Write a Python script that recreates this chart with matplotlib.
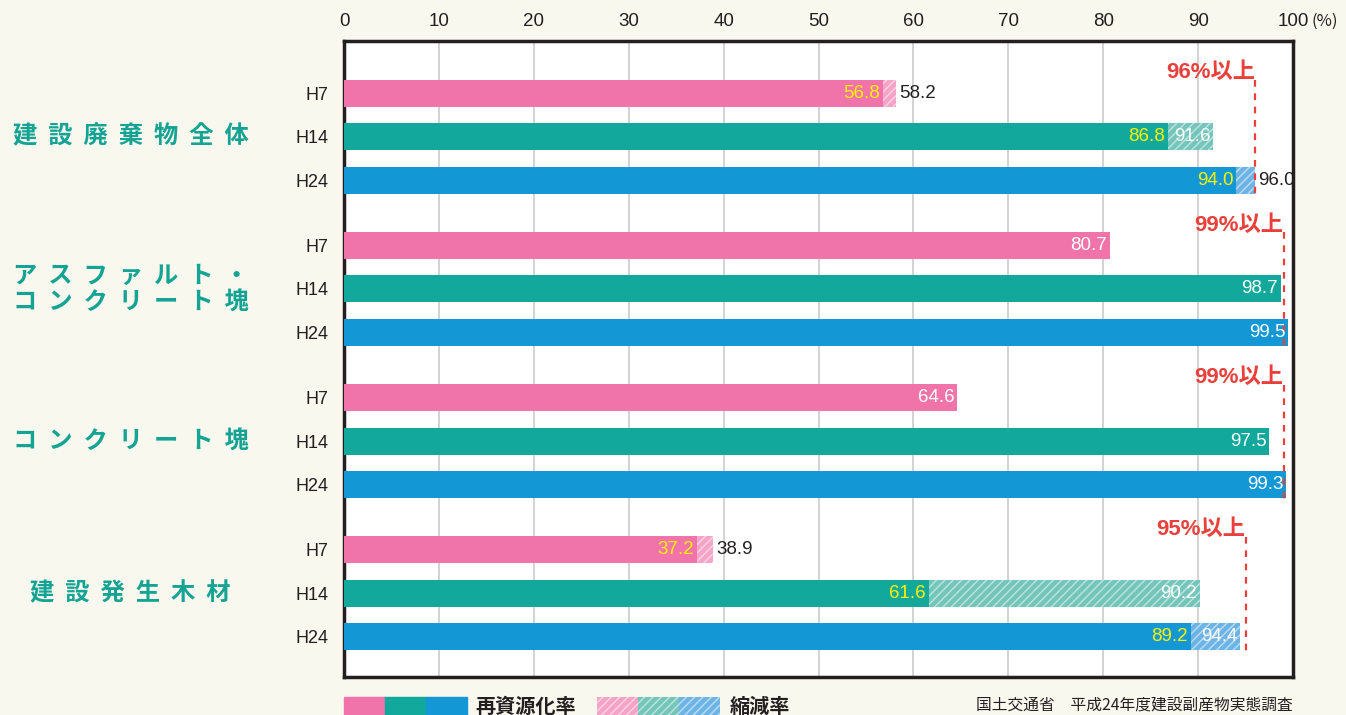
import matplotlib.pyplot as plt
from matplotlib.patches import Rectangle

plt.rcParams['font.family'] = ['Liberation Sans', 'Noto Sans CJK JP', 'DejaVu Sans']
plt.rcParams['hatch.linewidth'] = 1.0

# data
groups = ['建設廃棄物全体', 'アスファルト・\nコンクリート塊', 'コンクリート塊', '建設発生木材']
years = ['H7', 'H14', 'H24']
recycle = [[56.8, 86.8, 94.0],
           [80.7, 98.7, 99.5],
           [64.6, 97.5, 99.3],
           [37.2, 61.6, 89.2]]
reduction = [[58.2, 91.6, 96.0],
             [None, None, None],
             [None, None, None],
             [38.9, 90.2, 94.4]]
targets = [96, 99, 99, 95]
target_labels = ['96%以上', '99%以上', '99%以上', '95%以上']

colors = ['#F073AA', '#12A89B', '#1398D5']
light = ['#F6A3C8', '#74C5BA', '#6DB4E6']
teal = '#15A394'
red = '#E9403B'
dark = '#231F20'
cjk = ['Noto Sans CJK JP', 'DejaVu Sans']


def spaced(s):
    # wide letter spacing like the original
    return '\n'.join('  '.join(line) for line in s.split('\n'))


fig = plt.figure(figsize=(13.46, 7.15), dpi=100)
fig.patch.set_facecolor('#F9F8EF')
ax = fig.add_axes([344 / 1346, 1 - 677 / 715, (1293 - 344) / 1346, (677 - 41) / 715])
ax.set_facecolor('white')

step = 3.5
h = 0.62
ypos = []
ylab = []
for g in range(len(groups)):
    for r in range(3):
        y = g * step + r
        ypos.append(y)
        ylab.append(years[r])
        rec = recycle[g][r]
        red_v = reduction[g][r]
        ax.barh(y, rec, height=h, color=colors[r], zorder=3)
        if red_v is not None:
            ax.barh(y, red_v - rec, left=rec, height=h, color=light[r],
                    edgecolor=(1, 1, 1, 0.55), linewidth=0, hatch='////', zorder=3)
            ax.text(rec - 0.3, y, f'{rec:.1f}', color='#FFF100', ha='right', va='center',
                    fontsize=13.5, zorder=5)
            if red_v - rec > 3:
                ax.text(red_v - 0.3, y, f'{red_v:.1f}', color='white', ha='right', va='center',
                        fontsize=13.5, zorder=5)
            else:
                ax.text(red_v + 0.3, y, f'{red_v:.1f}', color=dark, ha='left', va='center',
                        fontsize=13.5, zorder=5)
        else:
            ax.text(rec - 0.3, y, f'{rec:.1f}', color='white', ha='right', va='center',
                    fontsize=13.5, zorder=5)

    # target line and label
    y0 = g * step
    ax.plot([targets[g], targets[g]], [y0 - 0.3, y0 + 2.45], color=red, lw=1.6,
            linestyle=(0, (3, 3)), zorder=4)
    ax.text(targets[g], y0 - 0.47, target_labels[g], color=red, ha='right', va='center',
            fontsize=16, fontweight='bold', zorder=5)

    # group label
    ax.text(-22.5, y0 + 1, spaced(groups[g]), color=teal, ha='center', va='center',
            fontsize=17.5, fontweight='bold', linespacing=1.15, family=cjk,
            clip_on=False)

ax.set_xlim(0, 100)
ax.set_ylim(len(groups) * step - 1.5 + 0.92, -1.2)
ax.set_xticks(range(0, 101, 10))
ax.set_xticklabels([str(v) for v in range(0, 101, 10)], fontsize=13.5, color=dark)
ax.xaxis.tick_top()
ax.tick_params(axis='x', length=0, pad=8)
ax.set_yticks(ypos)
ax.set_yticklabels(ylab, fontsize=13, color=dark)
ax.tick_params(axis='y', length=0, pad=11)
ax.grid(axis='x', color='#CCCCCC', lw=1.2, zorder=1)
ax.set_axisbelow(True)
for s in ax.spines.values():
    s.set_linewidth(2.5)
    s.set_color(dark)
ax.annotate('(%)', xy=(100, 1.0), xycoords=('data', 'axes fraction'),
            xytext=(13, 8), textcoords='offset points', ha='left', va='bottom',
            fontsize=12, color=dark, family=cjk, annotation_clip=False)

# legend
W, H = 1346, 715
for i, c in enumerate(colors):
    fig.patches.append(Rectangle(((344 + i * 41) / W, 0), 41 / W, 18 / H,
                                 transform=fig.transFigure, color=c))
for i, c in enumerate(light):
    fig.patches.append(Rectangle(((597 + i * 41) / W, 0), 41 / W, 18 / H,
                                 transform=fig.transFigure, facecolor=c,
                                 edgecolor=(1, 1, 1, 0.55), linewidth=0, hatch='////'))
fig.text(475 / W, 1 - 706 / H, '再資源化率', fontsize=14.5, fontweight='bold', color=dark,
         ha='left', va='center', family=cjk)
fig.text(730 / W, 1 - 706 / H, '縮減率', fontsize=14.5, fontweight='bold', color=dark,
         ha='left', va='center', family=cjk)
fig.text(1293 / W, 1 - 705 / H, '国土交通省　平成24年度建設副産物実態調査', fontsize=11.3,
         color=dark, ha='right', va='center', family=cjk)

fig.savefig('out.png', dpi=100, facecolor=fig.get_facecolor())
